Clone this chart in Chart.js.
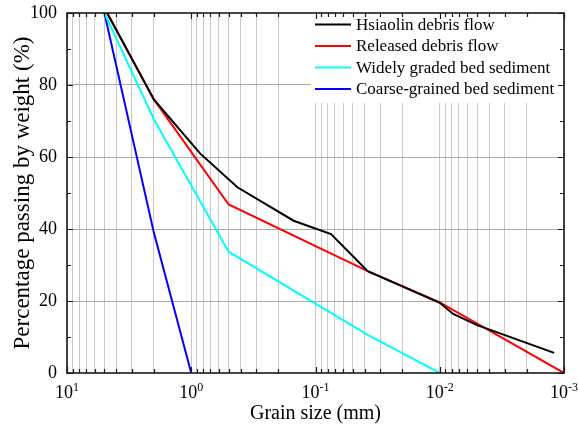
<!DOCTYPE html>
<html>
<head>
<meta charset="utf-8">
<script src="https://cdn.jsdelivr.net/npm/chart.js@4.4.1/dist/chart.umd.min.js"></script>
<style>
  html, body { margin: 0; padding: 0; background: #fff; }
  #wrap { width: 578px; height: 428px; }
</style>
</head>
<body>
<div id="wrap"><canvas id="grading" width="578" height="428"></canvas></div>
<script>
// grain size (mm) and percentage passing
const hsiaolinSize = [4.75, 2, 0.85, 0.425, 0.15, 0.075, 0.038, 0.01, 0.0078, 0.005, 0.0012];
const hsiaolinPass = [100, 76, 61, 51.6, 42.3, 38.6, 28.3, 19.5, 16.4, 13.3, 5.6];

const releasedSize = [4.75, 2, 0.5, 0.038, 0.01, 0.001];
const releasedPass = [100, 76, 46.8, 28.3, 19.6, 0];

const widelySize = [5, 2, 0.5, 0.038, 0.01];
const widelyPass = [100, 70.5, 33.7, 10.6, 0];

const coarseSize = [5, 2, 1];
const coarsePass = [100, 39, 0];

const seriesNames = ['Hsiaolin debris flow', 'Released debris flow', 'Widely graded bed sediment', 'Coarse-grained bed sediment'];
const seriesColors = ['#000000', '#ff0000', '#00ffff', '#0000ff'];

const decadeExps = [-3, -2, -1, 0, 1];   // x labels 10^-3 ... 10^1
const yTicks = [0, 10, 20, 30, 40, 50, 60, 70, 80, 90, 100];

// gridline positions on the log axis: 1..9 in each decade
const xGrid = [];
for (let e = -3; e < 1; e++) {
  for (let m = 1; m < 10; m++) xGrid.push(+(m * Math.pow(10, e)).toPrecision(3));
}
xGrid.push(10);

function pts(xs, ys) {
  return xs.map((x, i) => ({ x: x, y: ys[i] }));
}

const isDecade = v => Math.abs(Math.log10(v) - Math.round(Math.log10(v))) < 1e-6;

Chart.defaults.font.family = '"Liberation Serif", "Times New Roman", serif';
Chart.defaults.color = '#000';

// frame, inward tick marks, superscript x labels and the legend box
const framePlugin = {
  id: 'framePlugin',
  beforeDatasetsDraw(chart) {
    const c = chart.ctx;
    c.save();
    c.fillStyle = '#fff';
    c.fillRect(311, chart.chartArea.top, chart.chartArea.right - 311, 90);
    c.restore();
  },
  afterDraw(chart) {
    const c = chart.ctx;
    const a = chart.chartArea;
    const xs = chart.scales.x;
    const ys = chart.scales.y;
    c.save();
    c.strokeStyle = '#1a1a1a';
    c.lineWidth = 1.2;
    c.beginPath();
    xGrid.forEach(v => {
      const px = Math.round(xs.getPixelForValue(v)) + 0.5;
      const len = isDecade(v) ? 6 : 4;
      c.moveTo(px, a.bottom); c.lineTo(px, a.bottom - len);
      c.moveTo(px, a.top); c.lineTo(px, a.top + len);
    });
    yTicks.forEach(v => {
      const py = Math.round(ys.getPixelForValue(v)) + 0.5;
      const len = v % 20 === 0 ? 6 : 4;
      c.moveTo(a.left, py); c.lineTo(a.left + len, py);
      c.moveTo(a.right, py); c.lineTo(a.right - len, py);
    });
    c.stroke();

    c.lineWidth = 1.6;
    c.strokeRect(a.left, a.top, a.right - a.left, a.bottom - a.top);

    // x labels as 10 with a raised exponent
    c.fillStyle = '#000';
    c.textBaseline = 'alphabetic';
    decadeExps.forEach(e => {
      const px = xs.getPixelForValue(Math.pow(10, e));
      const exp = e < 0 ? '-' + (-e) : String(e);
      c.font = '18px "Liberation Serif"';
      const wb = c.measureText('10').width;
      c.font = '12px "Liberation Serif"';
      const we = c.measureText(exp).width;
      const x0 = px - (wb + we) / 2;
      c.font = '18px "Liberation Serif"';
      c.fillText('10', x0, 398);
      c.font = '12px "Liberation Serif"';
      c.fillText(exp, x0 + wb, 391);
    });

    // legend
    c.font = '17px "Liberation Serif"';
    c.textBaseline = 'middle';
    chart.data.datasets.forEach((ds, i) => {
      const y = a.top + 11.5 + i * 21.5;
      c.strokeStyle = ds.borderColor;
      c.lineWidth = 2;
      c.beginPath();
      c.moveTo(315, y); c.lineTo(351, y);
      c.stroke();
      c.fillText(ds.label, 356, y + 1);
    });
    c.restore();
  }
};

const datasets = [
  pts(hsiaolinSize, hsiaolinPass),
  pts(releasedSize, releasedPass),
  pts(widelySize, widelyPass),
  pts(coarseSize, coarsePass)
].map((d, i) => ({
  label: seriesNames[i],
  data: d,
  borderColor: seriesColors[i],
  backgroundColor: seriesColors[i],
  borderWidth: 2,
  pointRadius: 0,
  tension: 0,
  fill: false
}));

new Chart(document.getElementById('grading'), {
  type: 'line',
  data: { datasets: datasets },
  options: {
    responsive: false,
    animation: false,
    layout: { padding: { top: 13, right: 14, left: 0, bottom: 0 } },
    plugins: { legend: { display: false }, tooltip: { enabled: false } },
    scales: {
      x: {
        type: 'logarithmic',
        reverse: true,
        min: 0.001,
        max: 10,
        afterBuildTicks: scale => { scale.ticks = xGrid.map(v => ({ value: v, major: isDecade(v) })); },
        afterFit: scale => { scale.height = 55; scale.paddingLeft = 0; scale.paddingRight = 0; },
        ticks: { display: false },
        grid: { color: '#c8c8c8', lineWidth: 1, drawTicks: false },
        border: { display: false },
        title: {
          display: true,
          text: 'Grain size (mm)',
          font: { size: 20 },
          padding: { top: 0, bottom: 2 }
        }
      },
      y: {
        min: 0,
        max: 100,
        afterBuildTicks: scale => { scale.ticks = yTicks.map(v => ({ value: v })); },
        afterFit: scale => { scale.width = 67; scale.paddingTop = 0; scale.paddingBottom = 0; },
        ticks: {
          font: { size: 18 },
          padding: 10,
          callback: v => (v % 20 === 0 ? v : '')
        },
        grid: {
          drawTicks: false,
          color: ctx => (ctx.tick.value % 20 === 0 && ctx.tick.value > 0 && ctx.tick.value < 100 ? '#a8a8a8' : 'rgba(0,0,0,0)'),
          lineWidth: 1
        },
        border: { display: false },
        title: {
          display: true,
          text: 'Percentage passing by weight (%)',
          font: { size: 23 },
          padding: { top: 9, bottom: 0 }
        }
      }
    }
  },
  plugins: [framePlugin]
});
</script>
</body>
</html>
